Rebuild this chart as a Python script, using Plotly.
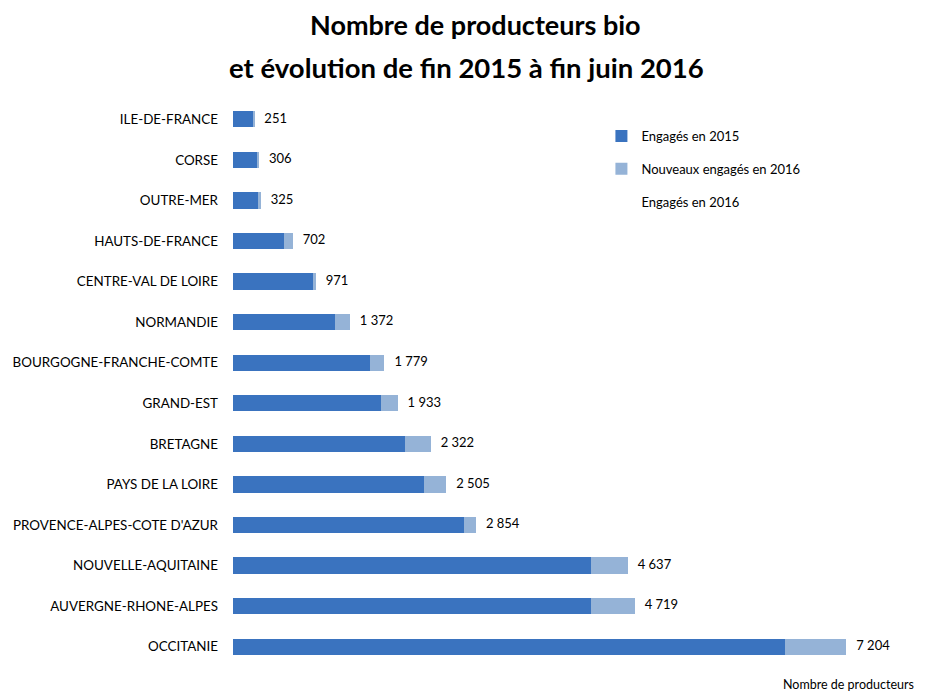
import plotly.graph_objects as go

regions = ["OCCITANIE", "AUVERGNE-RHONE-ALPES", "NOUVELLE-AQUITAINE",
           "PROVENCE-ALPES-COTE D'AZUR", "PAYS DE LA LOIRE", "BRETAGNE",
           "GRAND-EST", "BOURGOGNE-FRANCHE-COMTE", "NORMANDIE",
           "CENTRE-VAL DE LOIRE", "HAUTS-DE-FRANCE", "OUTRE-MER", "CORSE",
           "ILE-DE-FRANCE"]
engages_2015 = [6488, 4207, 4207, 2710, 2244, 2026, 1742, 1604, 1202, 948, 595, 302, 290, 235]
totaux_2016 = [7204, 4719, 4637, 2854, 2505, 2322, 1933, 1779, 1372, 971, 702, 325, 306, 251]
nouveaux_2016 = [t - e for t, e in zip(totaux_2016, engages_2015)]
labels = [f"{v:,}".replace(",", "\u00a0") for v in totaux_2016]

FONT = "Lato"
# page body has an 8px margin: figure is placed at (8, 8) in the window
L, T, PW, PH = 225, 91, 681, 568

fig = go.Figure()
fig.add_trace(go.Bar(y=regions, x=engages_2015, orientation="h", name="Engagés en 2015",
                     marker=dict(color="#3A73BF", line=dict(width=0)), legendgroup="a"))
fig.add_trace(go.Bar(y=regions, x=nouveaux_2016, orientation="h", name="Nouveaux engagés en 2016",
                     marker=dict(color="#95B3D7", line=dict(width=0)), legendgroup="b"))
fig.add_trace(go.Scatter(y=regions, x=totaux_2016, mode="text",
                         text=["\u00a0\u00a0\u00a0" + l for l in labels],
                         textposition="middle right", showlegend=False,
                         textfont=dict(family=FONT, size=13, color="#000")))
fig.add_trace(go.Scatter(y=[None], x=[None], mode="markers", name="Engagés en 2016",
                         marker=dict(color="rgba(0,0,0,0)", size=0), legendgroup="c"))

fig.update_layout(
    width=919, height=685, barmode="stack", bargap=0.6,
    margin=dict(l=L, r=919 - L - PW, t=T, b=685 - T - PH, autoexpand=False),
    plot_bgcolor="white", paper_bgcolor="white",
    font=dict(family=FONT, size=12, color="#000"),
    xaxis=dict(range=[0, 8000], visible=False),
    yaxis=dict(range=[-0.5, 13.5], showline=False, showgrid=False, ticks="",
               ticklabelstandoff=14, automargin=False,
               tickfont=dict(family=FONT, size=13.4)),
    legend=dict(x=0.541, y=1 - (121 - 99) / PH, xanchor="left", yanchor="top", tracegroupgap=13,
                font=dict(family=FONT, size=13), bgcolor="rgba(0,0,0,0)"),
)
fig.layout.annotations = [
    dict(text="<b>Nombre de producteurs bio</b>", xref="paper", yref="paper",
         x=(475 - 233) / PW, y=1 + (99 - 24) / PH, showarrow=False,
         xanchor="center", yanchor="middle", font=dict(family=FONT, size=27)),
    dict(text="<b>et évolution de fin 2015 à fin juin 2016</b>", xref="paper", yref="paper",
         x=(466 - 233) / PW, y=1 + (99 - 68) / PH, showarrow=False,
         xanchor="center", yanchor="middle", font=dict(family=FONT, size=27.5)),
    dict(text="Nombre de producteurs", xref="paper", yref="paper",
         x=(916 - 233) / PW, y=-(684 - 667) / PH, showarrow=False,
         xanchor="right", yanchor="middle", font=dict(family=FONT, size=12.5)),
]
fig.write_html("out.html")
